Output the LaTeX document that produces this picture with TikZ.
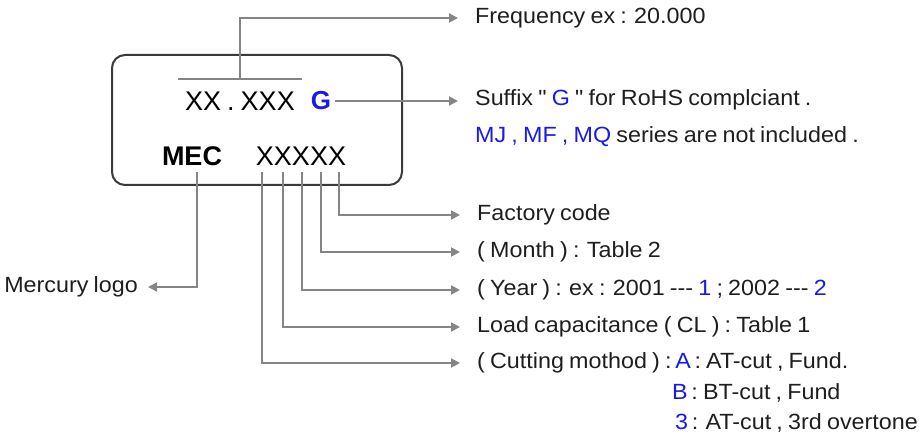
\documentclass[tikz,border=0pt]{standalone}
\usepackage{fontspec}
\newfontfamily\myfont[FakeStretch=1.06, WordSpace=0.8]{Liberation Sans}
\newfontfamily\mybigfont[WordSpace=0.8]{Liberation Sans}
\usetikzlibrary{arrows.meta}
\definecolor{linegray}{HTML}{858585}
\definecolor{boxgray}{HTML}{3A3A3A}
\definecolor{bluetxt}{HTML}{1A1AE6}
\definecolor{txtgray}{HTML}{1E1E1E}
\tikzset{
  lbl/.style={inner sep=0pt, anchor=west, text=txtgray, font=\myfont\fontsize{22}{26}\selectfont},
  big/.style={inner sep=0pt, text=black, font=\mybigfont\fontsize{27}{30}\selectfont},
  conn/.style={draw=linegray, line width=2pt},
  arr/.style={conn, -{Triangle[length=9pt,width=9pt]}},
}
\begin{document}
\begin{tikzpicture}[x=1pt,y=-1pt]
\useasboundingbox (0,0) rectangle (919,441);
% box
\draw[boxgray, line width=2pt, rounded corners=13pt] (112,55) rectangle (402,185);
% box contents
\node[big] (xx) at (240,101) {XX . XXX};
\node[big, text=bluetxt, font=\mybigfont\bfseries\fontsize{26}{30}\selectfont] (g) at (321,101) {G};
\node[big, font=\mybigfont\bfseries\fontsize{27}{30}\selectfont] (mec) at (192,156) {MEC};
\node[big, font=\mybigfont\fontsize{27}{30}\selectfont] (code) at (301,156) {XXXXX};
\coordinate (barL) at (178,79);
\coordinate (barR) at (302,79);
\coordinate (barM) at (240,79);
\draw[conn] (barL) -- (barR);
% right labels
\node[lbl] (freq) at (475,18) {Frequency ex : 20.000};
\node[lbl] (suf) at (475,100) {Suffix " \textcolor{bluetxt}{G} " for RoHS complciant .};
\node[lbl] (suf2) at (475,137) {\textcolor{bluetxt}{MJ , MF , MQ} series are not included .};
\node[lbl] (fac) at (477,215) {Factory code};
\node[lbl] (mon) at (477,252) {( Month ) : Table 2};
\node[lbl] (yr) at (477,290) {( Year ) : ex : 2001 -{}-{}- \textcolor{bluetxt}{1} ; 2002 -{}-{}- \textcolor{bluetxt}{2}};
\node[lbl] (load) at (477,327) {Load capacitance ( CL ) : Table 1};
\node[lbl] (cut) at (477,363) {( Cutting mothod ) :\,\textcolor{bluetxt}{A}\,: AT-cut , Fund.};
\node[lbl] (cutB) at (672,393) {\textcolor{bluetxt}{B}\,: BT-cut , Fund};
\node[lbl] (cut3) at (675,423) {\textcolor{bluetxt}{3}\,: AT-cut , 3rd overtone};
\node[lbl, anchor=east] (logo) at (138,287) {Mercury logo};
% connectors
\draw[arr] (barM) |- ([xshift=-17pt]freq.west);
\draw[arr] (g.east) ++(4pt,0) -- ([xshift=-17pt]suf.west |- g.east);
\coordinate (t0) at (197,172);
\coordinate (t1) at (262,172);
\coordinate (t2) at (283,172);
\coordinate (t3) at (302,172);
\coordinate (t4) at (321,172);
\coordinate (t5) at (339,172);
\draw[arr] (t0) |- ([xshift=10pt]logo.east);
\draw[arr] (t5) |- ([xshift=-17pt]fac.west);
\draw[arr] (t4) |- ([xshift=-17pt]mon.west);
\draw[arr] (t3) |- ([xshift=-17pt]yr.west);
\draw[arr] (t2) |- ([xshift=-17pt]load.west);
\draw[arr] (t1) |- ([xshift=-17pt]cut.west);
\end{tikzpicture}
\end{document}
